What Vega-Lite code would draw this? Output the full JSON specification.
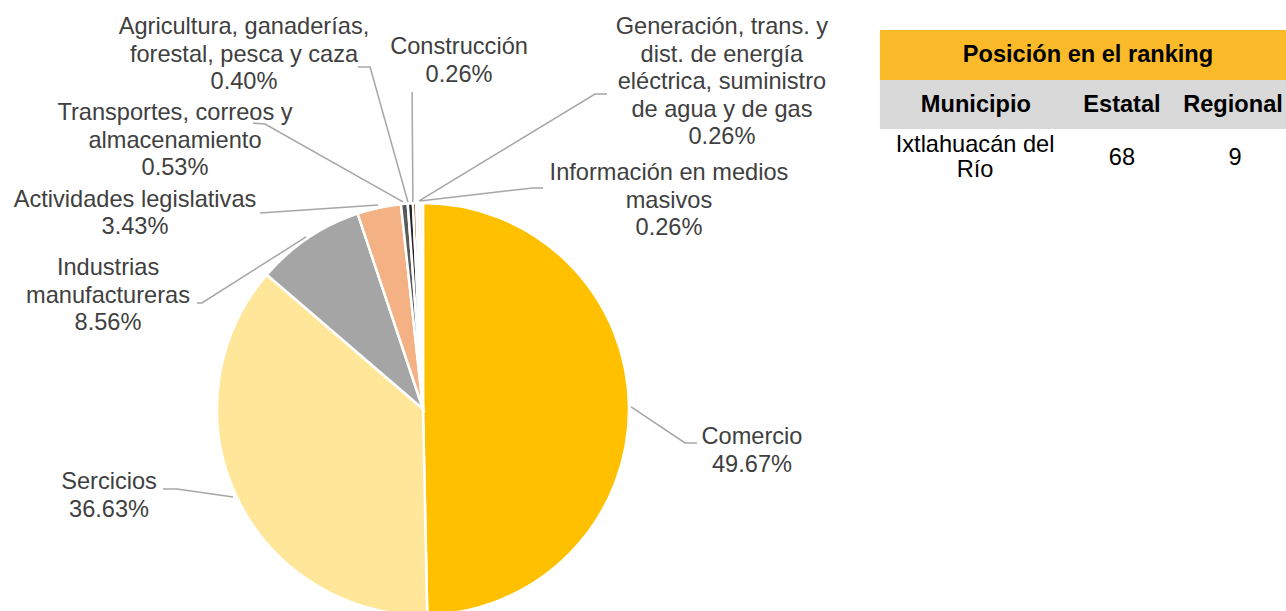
{
  "$schema": "https://vega.github.io/schema/vega-lite/v6.json",
  "width": 1286,
  "height": 611,
  "padding": 0,
  "autosize": {"type": "none"},
  "background": "white",
  "config": {"view": {"stroke": null}, "font": "Liberation Sans"},
  "datasets": {
    "sectores": [
      {"sector": "Comercio", "nombre": "Comercio", "valor": 49.67, "ord": 1, "lx": 1.597, "ly": -0.136},
      {"sector": "Sercicios", "nombre": "Sercicios", "valor": 36.63, "ord": 2, "lx": -1.524, "ly": -0.354},
      {"sector": "Industrias manufactureras", "nombre": "Industrias\nmanufactureras", "valor": 8.56, "ord": 3, "lx": -1.529, "ly": 0.684},
      {"sector": "Actividades legislativas", "nombre": "Actividades legislativas", "valor": 3.43, "ord": 4, "lx": -1.398, "ly": 1.015},
      {"sector": "Transportes, correos y almacenamiento", "nombre": "Transportes, correos y\nalmacenamiento", "valor": 0.53, "ord": 5, "lx": -1.204, "ly": 1.437},
      {"sector": "Agricultura, ganaderías, forestal, pesca y caza", "nombre": "Agricultura, ganaderías,\nforestal, pesca y caza", "valor": 0.40, "ord": 6, "lx": -0.869, "ly": 1.854},
      {"sector": "Construcción", "nombre": "Construcción", "valor": 0.26, "ord": 7, "lx": 0.175, "ly": 1.757},
      {"sector": "Generación, trans. y dist. de energía eléctrica, suministro de agua y de gas", "nombre": "Generación, trans. y\ndist. de energía\neléctrica, suministro\nde agua y de gas", "valor": 0.26, "ord": 8, "lx": 1.451, "ly": 1.854},
      {"sector": "Información en medios masivos", "nombre": "Información en medios\nmasivos", "valor": 0.26, "ord": 9, "lx": 1.194, "ly": 1.146}
    ],
    "guias": [
      {"sector": "Comercio", "p": 1, "gx": 1.010, "gy": 0.010},
      {"sector": "Comercio", "p": 2, "gx": 1.272, "gy": -0.165},
      {"sector": "Comercio", "p": 3, "gx": 1.330, "gy": -0.165},
      {"sector": "Sercicios", "p": 1, "gx": -0.922, "gy": -0.427},
      {"sector": "Sercicios", "p": 2, "gx": -1.194, "gy": -0.388},
      {"sector": "Sercicios", "p": 3, "gx": -1.262, "gy": -0.388},
      {"sector": "Industrias", "p": 1, "gx": -0.568, "gy": 0.835},
      {"sector": "Industrias", "p": 2, "gx": -1.073, "gy": 0.515},
      {"sector": "Industrias", "p": 3, "gx": -1.097, "gy": 0.515},
      {"sector": "Actividades", "p": 1, "gx": -0.218, "gy": 0.990},
      {"sector": "Actividades", "p": 2, "gx": -0.791, "gy": 0.951},
      {"sector": "Transportes", "p": 1, "gx": -0.097, "gy": 1.005},
      {"sector": "Transportes", "p": 2, "gx": -0.767, "gy": 1.383},
      {"sector": "Transportes", "p": 3, "gx": -0.825, "gy": 1.388},
      {"sector": "Agricultura", "p": 1, "gx": -0.073, "gy": 1.005},
      {"sector": "Agricultura", "p": 2, "gx": -0.257, "gy": 1.660},
      {"sector": "Agricultura", "p": 3, "gx": -0.316, "gy": 1.660},
      {"sector": "Construccion", "p": 1, "gx": -0.049, "gy": 1.005},
      {"sector": "Construccion", "p": 2, "gx": -0.053, "gy": 1.539},
      {"sector": "Generacion", "p": 1, "gx": -0.019, "gy": 1.010},
      {"sector": "Generacion", "p": 2, "gx": 0.835, "gy": 1.529},
      {"sector": "Generacion", "p": 3, "gx": 0.893, "gy": 1.529},
      {"sector": "Informacion", "p": 1, "gx": -0.015, "gy": 1.010},
      {"sector": "Informacion", "p": 2, "gx": 0.534, "gy": 1.073},
      {"sector": "Informacion", "p": 3, "gx": 0.583, "gy": 1.073}
    ],
    "bandas": [
      {"banda": "titulo", "x1": 2.218, "x2": 4.3, "y1": 1.840, "y2": 1.597},
      {"banda": "encabezado", "x1": 2.218, "x2": 4.3, "y1": 1.597, "y2": 1.359}
    ],
    "celdas": [
      {"texto": "Posición en el ranking", "tipo": "titulo", "cx": 3.228, "cy": 1.718},
      {"texto": "Municipio", "tipo": "encabezado", "cx": 2.684, "cy": 1.476},
      {"texto": "Estatal", "tipo": "encabezado", "cx": 3.393, "cy": 1.476},
      {"texto": "Regional", "tipo": "encabezado", "cx": 3.932, "cy": 1.476},
      {"texto": "Ixtlahuacán del\nRío", "tipo": "dato", "cx": 2.680, "cy": 1.282},
      {"texto": "68", "tipo": "dato", "cx": 3.393, "cy": 1.218},
      {"texto": "9", "tipo": "dato", "cx": 3.942, "cy": 1.218}
    ]
  },
  "layer": [
    {
      "data": {"name": "bandas"},
      "mark": {"type": "rect"},
      "encoding": {
        "x": {"field": "x1", "type": "quantitative", "scale": {"domain": [-2.0534, 4.1893], "nice": false, "zero": false}, "axis": null},
        "x2": {"field": "x2"},
        "y": {"field": "y1", "type": "quantitative", "scale": {"domain": [-0.9806, 1.9854], "nice": false, "zero": false}, "axis": null},
        "y2": {"field": "y2"},
        "color": {"field": "banda", "type": "nominal", "scale": {"domain": ["titulo", "encabezado"], "range": ["#FBBA2A", "#D9D9D9"]}, "legend": null}
      }
    },
    {
      "data": {"name": "sectores"},
      "mark": {"type": "arc", "radius": 206, "stroke": "white", "strokeWidth": 2.5},
      "encoding": {
        "x": {"datum": 0, "type": "quantitative", "scale": {"domain": [-2.0534, 4.1893], "nice": false, "zero": false}, "axis": null},
        "y": {"datum": 0, "type": "quantitative", "scale": {"domain": [-0.9806, 1.9854], "nice": false, "zero": false}, "axis": null},
        "theta": {"field": "valor", "type": "quantitative", "stack": true},
        "order": {"field": "ord", "type": "quantitative"},
        "fill": {"field": "sector", "type": "nominal", "legend": null,
          "scale": {
            "domain": ["Comercio", "Sercicios", "Industrias manufactureras", "Actividades legislativas", "Transportes, correos y almacenamiento", "Agricultura, ganaderías, forestal, pesca y caza", "Construcción", "Generación, trans. y dist. de energía eléctrica, suministro de agua y de gas", "Información en medios masivos"],
            "range": ["#FFC000", "#FFE699", "#A5A5A5", "#F4B183", "#595959", "#262626", "#843C0C", "#F2F2F2", "#FFF2CC"]
          }
        }
      }
    },
    {
      "data": {"name": "guias"},
      "mark": {"type": "line", "stroke": "#A6A6A6", "strokeWidth": 1.5},
      "encoding": {
        "x": {"field": "gx", "type": "quantitative", "scale": {"domain": [-2.0534, 4.1893], "nice": false, "zero": false}, "axis": null},
        "y": {"field": "gy", "type": "quantitative", "scale": {"domain": [-0.9806, 1.9854], "nice": false, "zero": false}, "axis": null},
        "detail": {"field": "sector", "type": "nominal"},
        "order": {"field": "p", "type": "quantitative"}
      }
    },
    {
      "data": {"name": "sectores"},
      "transform": [
        {"calculate": "datum.nombre + '\\n' + format(datum.valor, '.2f') + '%'", "as": "etiqueta"}
      ],
      "mark": {"type": "text", "fontSize": 23.6, "lineHeight": 27.6, "lineBreak": "\n", "align": "center", "baseline": "middle", "color": "#404040"},
      "encoding": {
        "x": {"field": "lx", "type": "quantitative", "scale": {"domain": [-2.0534, 4.1893], "nice": false, "zero": false}, "axis": null},
        "y": {"field": "ly", "type": "quantitative", "scale": {"domain": [-0.9806, 1.9854], "nice": false, "zero": false}, "axis": null},
        "text": {"field": "etiqueta"}
      }
    },
    {
      "data": {"name": "celdas"},
      "transform": [{"filter": "datum.tipo !== 'dato'"}],
      "mark": {"type": "text", "fontSize": 23.6, "fontWeight": "bold", "align": "center", "baseline": "middle", "color": "#000000"},
      "encoding": {
        "x": {"field": "cx", "type": "quantitative", "scale": {"domain": [-2.0534, 4.1893], "nice": false, "zero": false}, "axis": null},
        "y": {"field": "cy", "type": "quantitative", "scale": {"domain": [-0.9806, 1.9854], "nice": false, "zero": false}, "axis": null},
        "text": {"field": "texto"}
      }
    },
    {
      "data": {"name": "celdas"},
      "transform": [{"filter": "datum.tipo === 'dato'"}],
      "mark": {"type": "text", "fontSize": 23.6, "lineHeight": 25, "lineBreak": "\n", "align": "center", "baseline": "middle", "color": "#000000"},
      "encoding": {
        "x": {"field": "cx", "type": "quantitative", "scale": {"domain": [-2.0534, 4.1893], "nice": false, "zero": false}, "axis": null},
        "y": {"field": "cy", "type": "quantitative", "scale": {"domain": [-0.9806, 1.9854], "nice": false, "zero": false}, "axis": null},
        "text": {"field": "texto"}
      }
    }
  ]
}
